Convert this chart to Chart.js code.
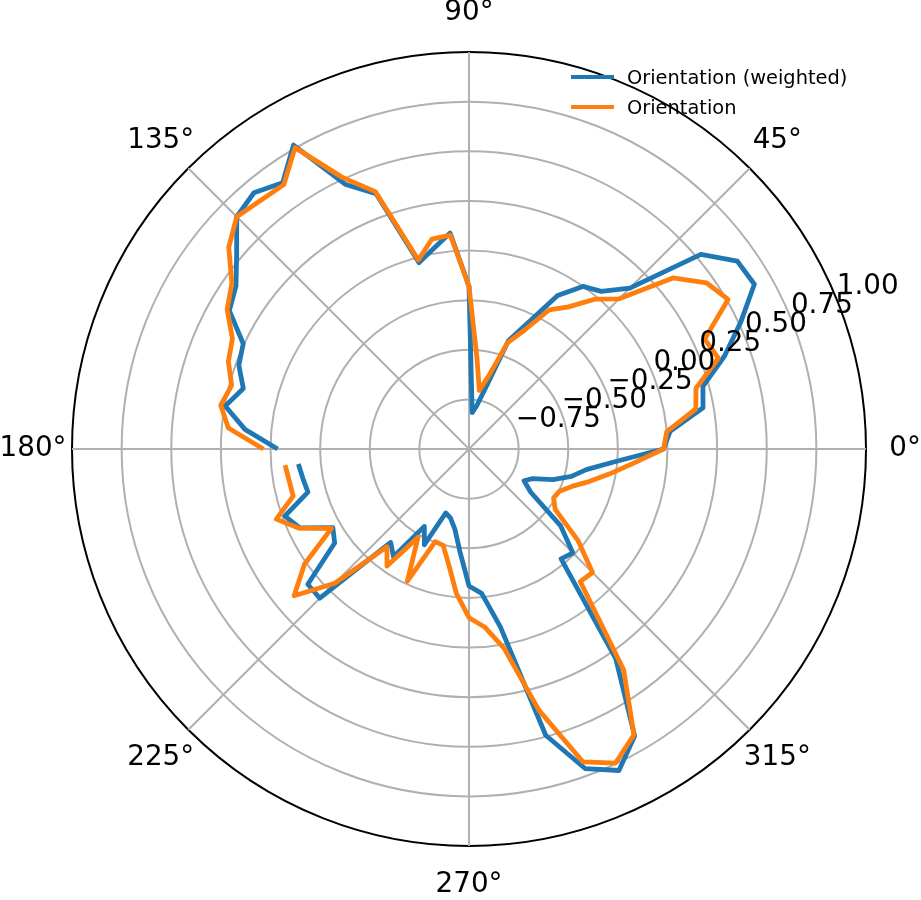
<!DOCTYPE html>
<html>
<head>
<meta charset="utf-8">
<script src="https://cdn.jsdelivr.net/npm/chart.js@4.4.1/dist/chart.umd.min.js"></script>
<style>
  body { margin: 0; background: #fff; }
  #wrap { position: relative; width: 921px; height: 900px; }
  #legend { position: absolute; left: 571px; top: 62px; font: 19.4px "DejaVu Sans", sans-serif; color: #000; }
  .leg-row { display: flex; align-items: center; height: 30px; white-space: nowrap; }
  .leg-line { width: 43px; height: 4.6px; margin-right: 13px; }
</style>
</head>
<body>
<div id="wrap">
  <canvas id="polar"></canvas>
  <div id="legend"></div>
</div>
<script>
// -- DATA (angles in degrees, same order as the original plot: -175 .. 180)
const angles = [
  -175, -170, -165, -160, -155, -150, -145, -140, -135, -130, -125, -120,
  -115, -110, -105, -100, -95, -90, -85, -80, -75, -70, -65, -60,
  -55, -50, -45, -40, -35, -30, -25, -20, -15, -10, -5, 0,
  5, 10, 15, 20, 25, 30, 35, 40, 45, 50, 55, 60,
  65, 70, 75, 80, 85, 90, 95, 100, 105, 110, 115, 120,
  125, 130, 135, 140, 145, 150, 155, 160, 165, 170, 175, 180
];
const weighted = [
  -0.137, -0.15, -0.16, -0.013, -0.06, -0.208, -0.174, 0.06, 0.063, -0.386, -0.337, -0.55,
  -0.468, -0.657, -0.64, -0.59, -0.48, -0.31, -0.27, -0.09, 0.493, 0.714, 0.787, 0.669,
  0.289, -0.278, -0.26, -0.397, -0.62, -0.68, -0.646, -0.55, -0.466, -0.40, -0.263, -0.02,
  0.017, 0.197, 0.22, 0.37, 0.51, 0.66, 0.65, 0.525, 0.146, 0.037, 0.0, -0.107,
  -0.30, -0.42, -0.685, -0.78, -0.816, -0.18, 0.092, 0.026, -0.028, 0.368, 0.47, 0.768,
  0.637, 0.685, 0.655, 0.528, 0.433, 0.394, 0.255, 0.234, 0.177, 0.247, 0.133, -0.036
];
const plain = [
  -0.07, -0.08, -0.083, 0.033, -0.056, -0.20, 0.012, 0.15, -0.044, -0.357, -0.28, -0.487,
  -0.265, -0.503, -0.497, -0.41, -0.27, -0.15, -0.10, 0.02, 0.363, 0.677, 0.746, 0.662,
  0.358, -0.128, -0.12, -0.284, -0.47, -0.508, -0.497, -0.449, -0.37, -0.28, -0.17, -0.02,
  0.0, 0.16, 0.184, 0.337, 0.31, 0.507, 0.46, 0.341, 0.07, -0.015, -0.126, -0.19,
  -0.34, -0.43, -0.62, -0.70, -0.54, -0.18, 0.082, 0.074, -0.014, 0.38, 0.51, 0.753,
  0.626, 0.634, 0.655, 0.58, 0.458, 0.407, 0.315, 0.29, 0.238, 0.27, 0.217, 0.036
];
const rTicks = [-0.75, -0.5, -0.25, 0, 0.25, 0.5, 0.75, 1.0];
const thetaTicks = [0, 45, 90, 135, 180, 225, 270, 315];

// Chart.js goes clockwise, matplotlib counter-clockwise: reverse the order and
// start at 270 (west) so that index 0 = 180 degrees.
const START_ANGLE = 270;
const norm = a => ((a % 360) + 360) % 360;
const chartAngles = angles.slice().reverse();
// trailing null keeps the line open across the 180 degree gap
const toSeries = arr => arr.slice().reverse().concat([null]);

const FONT = '"DejaVu Sans", sans-serif';
const GRID = '#b0b0b0';
const LINE_W = 4.8;

const polarText = {
  id: 'polarText',
  afterDatasetsDraw(chart) {
    const s = chart.scales.r;
    const ctx = chart.ctx;
    const at = (theta, dist) =>
      s.getPointPosition(0, dist, (90 - theta) * Math.PI / 180 - s.getIndexAngle(0));
    ctx.save();
    ctx.fillStyle = '#000';
    ctx.font = '27.8px ' + FONT;
    ctx.textAlign = 'center';
    ctx.textBaseline = 'middle';
    thetaTicks.forEach(t => {
      const p = at(t, s.drawingArea + 39);
      ctx.fillText(t + '°', p.x, p.y);
    });
    ctx.textAlign = 'left';
    ctx.textBaseline = 'alphabetic';
    rTicks.forEach(v => {
      const p = at(22.5, s.getDistanceFromCenterForValue(v));
      ctx.fillText(v.toFixed(2).replace('-', '\u2212'), p.x + 1, p.y - 3);
    });
    ctx.restore();
  }
};

const lineStyle = { borderWidth: LINE_W, fill: false, tension: 0, borderJoinStyle: 'round', pointRadius: 0, pointHoverRadius: 0 };

const chart = new Chart(document.getElementById('polar'), {
  type: 'radar',
  data: {
    labels: chartAngles.map(a => norm(a) + '°'),
    datasets: [
      { label: 'Orientation (weighted)', data: toSeries(weighted), borderColor: '#1f77b4', order: 1, ...lineStyle },
      { label: 'Orientation', data: toSeries(plain), borderColor: '#ff7f0e', order: 0, ...lineStyle }
    ]
  },
  options: {
    responsive: true, maintainAspectRatio: false, animation: false,
    layout: { padding: { left: 72, top: 52, right: 55, bottom: 54 } },
    plugins: { legend: { display: false }, tooltip: { enabled: false } },
    scales: {
      r: {
        min: -1, max: 1, startAngle: START_ANGLE,
        ticks: { stepSize: 0.25, display: false },
        grid: {
          circular: true, lineWidth: 2,
          color: c => c.tick.value === 1 ? '#000' : (c.tick.value === -1 ? 'rgba(0,0,0,0)' : GRID)
        },
        angleLines: {
          color: GRID,
          lineWidth: c => thetaTicks.includes(norm(chartAngles[c.index])) ? 2 : 0
        },
        pointLabels: { display: false }
      }
    }
  },
  plugins: [polarText]
});

// -- LEGEND
document.getElementById('legend').innerHTML = chart.data.datasets.map(d =>
  `<div class="leg-row"><div class="leg-line" style="background:${d.borderColor}"></div>${d.label}</div>`
).join('');
</script>
</body>
</html>
